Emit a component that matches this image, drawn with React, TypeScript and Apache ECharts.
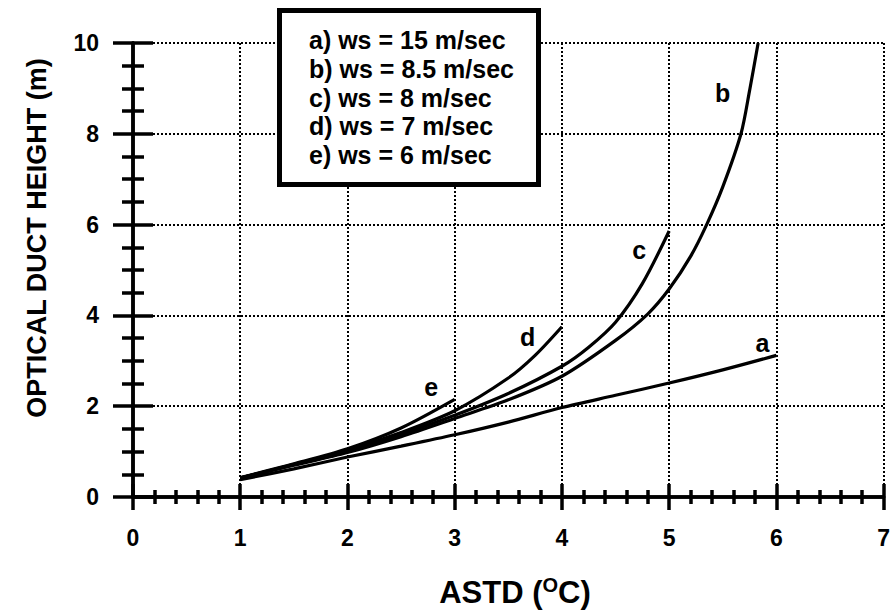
import React, { useEffect, useRef } from "react";
import * as echarts from "echarts";

const FONT = "'Liberation Sans', Arial, Helvetica, sans-serif";

// ASTD (°C) values and optical duct heights (m) for each wind speed
const xA = [1, 1.5, 2, 2.5, 3, 3.5, 4, 4.5, 5, 5.5, 6];
const yA = [0.38, 0.62, 0.88, 1.12, 1.37, 1.65, 1.97, 2.24, 2.51, 2.8, 3.12];

const xB = [1, 1.5, 2, 2.5, 3, 3.5, 4, 4.5, 4.8, 5, 5.2, 5.35, 5.5, 5.67, 5.75, 5.83];
const yB = [0.42, 0.7, 0.98, 1.33, 1.73, 2.14, 2.66, 3.45, 4.03, 4.58, 5.3, 6.0, 6.83, 8.0, 8.95, 10.0];

const xC = [1, 1.5, 2, 2.5, 3, 3.5, 4, 4.25, 4.5, 4.75, 5];
const yC = [0.42, 0.71, 1.0, 1.38, 1.8, 2.28, 2.88, 3.3, 3.85, 4.7, 5.86];

const xD = [1, 1.5, 2, 2.5, 3, 3.5, 3.75, 4];
const yD = [0.42, 0.72, 1.03, 1.42, 1.9, 2.62, 3.12, 3.75];

const xE = [1, 1.5, 2, 2.5, 3];
const yE = [0.43, 0.73, 1.06, 1.52, 2.15];

const curveNames = ["a", "b", "c", "d", "e"];
const curveLabelPos = [
  [5.87, 3.39],
  [5.5, 8.9],
  [4.72, 5.44],
  [3.68, 3.52],
  [2.78, 2.42],
];

const legendLines = [
  "a) ws = 15 m/sec",
  "b) ws = 8.5 m/sec",
  "c) ws = 8 m/sec",
  "d) ws = 7 m/sec",
  "e) ws = 6 m/sec",
];

const xTickLabels = ["0", "1", "2", "3", "4", "5", "6", "7"];
const yAxisTitle = "OPTICAL DUCT HEIGHT (m)";

export default function App() {
  const ref = useRef<HTMLDivElement>(null);

  useEffect(() => {
    if (!ref.current) return;
    const chart = echarts.init(ref.current, null, { renderer: "svg" });

    const pairs = (xs: number[], ys: number[]) => xs.map((x, i) => [x, ys[i]]);
    const allX = [xA, xB, xC, xD, xE];
    const allY = [yA, yB, yC, yD, yE];

    const gridLine = { show: true, lineStyle: { color: "#000", width: 2, type: [2, 2] as any } };
    const axisLineStyle = { show: true, lineStyle: { color: "#000", width: 3.5 } };

    const xBase = {
      type: "value" as const,
      min: 0,
      max: 7,
      interval: 1,
      axisLine: axisLineStyle,
      axisTick: { show: true, inside: true, length: 13, lineStyle: { color: "#000", width: 3.5 } },
      minorTick: { show: true, splitNumber: 5, length: 7, lineStyle: { color: "#000", width: 3.5 } },
      minorSplitLine: { show: false },
    };
    const yBase = {
      type: "value" as const,
      min: 0,
      max: 10,
      interval: 2,
      axisLine: axisLineStyle,
      axisTick: { show: true, inside: true, length: 20, lineStyle: { color: "#000", width: 3.5 } },
      minorTick: { show: true, splitNumber: 4, length: 11, lineStyle: { color: "#000", width: 3.5 } },
      minorSplitLine: { show: false },
    };

    const series: any[] = curveNames.map((n, i) => ({
      type: "line",
      name: n,
      xAxisIndex: 0,
      yAxisIndex: 0,
      data: pairs(allX[i], allY[i]),
      showSymbol: false,
      smooth: 0.3,
      lineStyle: { color: "#000", width: 3.2 },
      clip: true,
      z: 5,
      markPoint: {
        symbol: "circle",
        symbolSize: 0,
        silent: true,
        data: [{ coord: curveLabelPos[i], value: n }],
        label: {
          show: true,
          position: "inside",
          formatter: n,
          fontFamily: FONT,
          fontWeight: "bold",
          fontSize: 25,
          color: "#000",
        },
      },
    }));

    chart.setOption({
      animation: false,
      backgroundColor: "#fff",
      grid: { left: 133, right: 2, top: 43, bottom: 115 },
      xAxis: [
        {
          ...xBase,
          position: "bottom",
          splitLine: gridLine,
          axisLabel: {
            show: true,
            margin: 29,
            fontFamily: FONT,
            fontWeight: "bold",
            fontSize: 23,
            color: "#000",
            formatter: (v: number) => xTickLabels[Math.round(v)] ?? "",
            showMaxLabel: true,
          },
        },
        {
          ...xBase,
          position: "top",
          splitLine: { show: false },
          axisLabel: { show: false },
        },
      ],
      yAxis: [
        {
          ...yBase,
          position: "left",
          splitLine: gridLine,
          axisLabel: {
            show: true,
            margin: 34,
            fontFamily: FONT,
            fontWeight: "bold",
            fontSize: 23,
            color: "#000",
          },
        },
        {
          ...yBase,
          position: "right",
          splitLine: { show: false },
          axisLabel: { show: false },
        },
      ],
      series,
      graphic: [
        {
          type: "rect",
          z: 100,
          shape: { x: 279.5, y: 10.5, width: 259, height: 174 },
          style: { fill: "#fff", stroke: "#000", lineWidth: 5 },
        },
        ...legendLines.map((t, i) => ({
          type: "text",
          z: 101,
          x: 309,
          y: 40 + i * 28.8,
          style: {
            text: t,
            fontFamily: FONT,
            fontWeight: "bold",
            fontSize: 25,
            fill: "#000",
            textAlign: "left",
            textVerticalAlign: "middle",
          },
        })),
        {
          type: "text",
          z: 101,
          x: 37,
          y: 238,
          rotation: Math.PI / 2,
          style: {
            text: yAxisTitle,
            fontFamily: FONT,
            fontWeight: "bold",
            fontSize: 27,
            fill: "#000",
            textAlign: "center",
            textVerticalAlign: "middle",
          },
        },
        {
          type: "text",
          z: 101,
          x: 515,
          y: 592,
          style: {
            text: "{m|ASTD (}{s|O}{m|C)}",
            fontFamily: FONT,
            fontWeight: "bold",
            fontSize: 31,
            fill: "#000",
            textAlign: "center",
            textVerticalAlign: "middle",
            rich: {
              m: { fontFamily: FONT, fontWeight: "bold", fontSize: 31, fill: "#000" },
              s: {
                fontFamily: FONT,
                fontWeight: "bold",
                fontSize: 20,
                fill: "#000",
                verticalAlign: "top",
                padding: [0, 0, 14, 0],
              },
            },
          },
        },
      ],
    });

    return () => chart.dispose();
  }, []);

  return (
    <div
      ref={ref}
      style={{ position: "absolute", left: 0, top: 0, width: 893, height: 612, background: "#fff" }}
    />
  );
}
